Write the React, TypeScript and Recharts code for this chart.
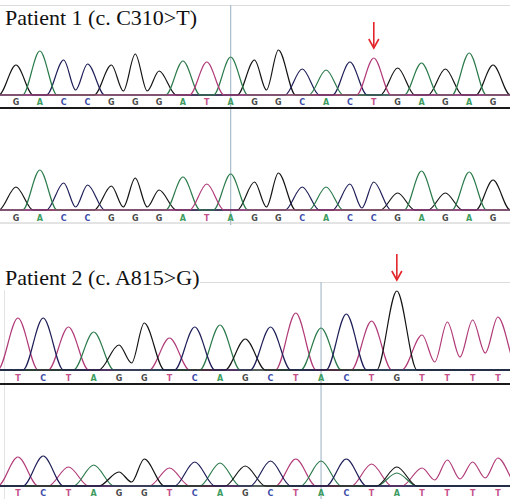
import React from 'react';
import { ComposedChart, Line, Scatter, XAxis, YAxis, ReferenceLine, ReferenceDot } from 'recharts';

// called bases and peak heights (px above baseline)
const trace1Bases = ['G', 'A', 'C', 'C', 'G', 'G', 'G', 'A', 'T', 'A', 'G', 'G', 'C', 'A', 'C', 'T', 'G', 'A', 'G', 'A', 'G'];
const trace1Heights = [30, 44, 35, 31, 30, 41, 24, 34, 33, 38, 35, 45, 26, 25, 33, 37, 27, 32, 26, 42, 30];
const trace1Valleys = [0, 0, 5, 0, 4, 4, 0, 0, 0, 0, 5, 0, 0, 0, 0, 0, 0, 0, 0, 0];

const trace2Bases = ['G', 'A', 'C', 'C', 'G', 'G', 'G', 'A', 'T', 'A', 'G', 'G', 'C', 'A', 'C', 'C', 'G', 'A', 'G', 'A', 'G'];
const trace2Heights = [23, 40, 27, 25, 24, 32, 20, 33, 26, 36, 28, 37, 23, 23, 26, 28, 17, 39, 17, 38, 30];
const trace2Valleys = [0, 0, 3, 0, 3, 3, 0, 0, 0, 0, 3, 0, 0, 0, 2, 0, 0, 0, 0, 0];

const trace3Bases = ['T', 'C', 'T', 'A', 'G', 'G', 'T', 'C', 'A', 'G', 'C', 'T', 'A', 'C', 'T', 'G', 'T', 'T', 'T', 'T'];
const trace3Heights = [52, 52, 43, 38, 25, 47, 32, 43, 45, 31, 43, 57, 42, 56, 49, 79, 35, 48, 50, 53];
const trace3Valleys = [0, 0, 0, 0, 7, 0, 0, 0, 0, 0, 0, 0, 0, 0, 0, 0, 8, 13, 17];

const trace4Bases = ['T', 'C', 'T', 'A', 'G', 'G', 'T', 'C', 'A', 'G', 'C', 'T', 'A', 'C', 'T', 'A', 'T', 'T', 'T', 'T'];
const trace4Heights = [29, 30, 19, 21, 14, 27, 18, 24, 23, 20, 25, 27, 25, 27, 22, 13, 18, 26, 24, 28];
const trace4Valleys = [0, 0, 0, 0, 4, 0, 0, 0, 0, 0, 0, 0, 0, 0, 0, 0, 6, 7, 8];
// second (overlapping) peak under a called base
const trace4Extras = [{ at: 15, base: 'G', height: 19 }];

const panel1Domain: [number, number] = [-0.67, 20.71];
const panel2Domain: [number, number] = [-0.71, 19.48];

const channelColors: Record<string, string> = { G: '#141414', A: '#2b7a4b', C: '#1e1e58', T: '#b03a78' };
const letterColors: Record<string, string> = { G: '#4a4a4a', A: '#3d9b5f', C: '#3c4ca8', T: '#c4508a' };

type Extra = { at: number; base: string; height: number };

function channelPoints(
  bases: string[],
  heights: number[],
  valleys: number[],
  extras: Extra[],
  ch: string,
  w: number,
  domain: [number, number]
) {
  const peaks = bases
    .map((b, i) => ({ i, b, h: heights[i] }))
    .filter((p) => p.b === ch)
    .concat(extras.filter((e) => e.base === ch).map((e) => ({ i: e.at, b: e.base, h: e.height })))
    .sort((a, b) => a.i - b.i);

  const pts = [{ x: domain[0] - 1, y: 0 }];
  peaks.forEach((p, k) => {
    const prev = peaks[k - 1];
    const next = peaks[k + 1];
    if (!(prev && prev.i === p.i - 1)) pts.push({ x: p.i - w, y: 0 });
    pts.push({ x: p.i, y: p.h });
    if (next && next.i === p.i + 1) pts.push({ x: p.i + 0.5, y: valleys[p.i] });
    else pts.push({ x: p.i + w, y: 0 });
  });
  pts.push({ x: domain[1] + 1, y: 0 });
  return pts;
}

function traceLines(
  id: string,
  bases: string[],
  heights: number[],
  valleys: number[],
  extras: Extra[],
  w: number,
  domain: [number, number],
  order: string[],
  letterY: number
) {
  const lines = order.map((ch) => (
    <Line
      key={`${id}-${ch}`}
      yAxisId={id}
      data={channelPoints(bases, heights, valleys, extras, ch, w, domain)}
      dataKey="y"
      type="monotone"
      stroke={channelColors[ch]}
      strokeWidth={1.2}
      dot={false}
      activeDot={false}
      isAnimationActive={false}
    />
  ));
  const letters = (
    <Scatter
      key={`${id}-letters`}
      yAxisId={id}
      data={bases.map((b, i) => ({ x: i, y: letterY, b }))}
      isAnimationActive={false}
      shape={(p: any) => (
        <text
          x={p.cx}
          y={p.cy}
          dy="0.35em"
          textAnchor="middle"
          fontSize={8}
          fontWeight="bold"
          fontFamily="DejaVu Sans"
          fill={letterColors[p.payload.b]}
        >
          {p.payload.b}
        </text>
      )}
    />
  );
  return [...lines, letters];
}

const Arrow = (p: any) => (
  <g stroke="#e3262b" strokeWidth={1.6} fill="none">
    <line x1={p.cx} y1={p.cy - 26} x2={p.cx} y2={p.cy} />
    <polyline points={`${p.cx - 5},${p.cy - 9} ${p.cx},${p.cy} ${p.cx + 5},${p.cy - 9}`} />
  </g>
);

const titleStyle: React.CSSProperties = {
  position: 'absolute',
  left: 5,
  fontFamily: '"Liberation Serif", serif',
  fontSize: 22,
  lineHeight: '22px',
  color: '#111',
  whiteSpace: 'nowrap',
};

const App = () => {
  return (
    <div style={{ position: 'absolute', left: 0, top: 0, width: 510, height: 499, background: '#fff', overflow: 'hidden' }}>
      <div style={{ position: 'absolute', left: 0, top: 5, width: 510, height: 1, background: '#dcdcdc' }} />
      <div style={{ position: 'absolute', left: 200, top: 282, width: 310, height: 1, background: '#dcdcdc' }} />
      <div style={{ position: 'absolute', left: 4, top: 290, width: 1, height: 209, background: '#e4e4e4' }} />

      <div style={{ position: 'absolute', left: 0, top: 5 }}>
        <ComposedChart width={510} height={220} margin={{ top: 0, right: 0, bottom: 0, left: 0 }}>
          <XAxis dataKey="x" type="number" domain={panel1Domain} allowDataOverflow hide />
          <YAxis yAxisId="a" dataKey="y" type="number" domain={[-130, 90]} allowDataOverflow hide />
          <YAxis yAxisId="b" dataKey="y" type="number" domain={[-15, 205]} allowDataOverflow hide />
          <ReferenceLine yAxisId="a" x={9} stroke="#a9bdcb" strokeWidth={1.2} />
          <ReferenceLine yAxisId="a" y={0} stroke="#c58cb0" strokeWidth={1.4} />
          <ReferenceLine yAxisId="a" y={-13} stroke="#1a1a1a" strokeWidth={2} />
          <ReferenceLine yAxisId="b" y={0} stroke="#c58cb0" strokeWidth={1.4} />
          <ReferenceLine yAxisId="b" y={-13} stroke="#c8c8c8" strokeWidth={1} />
          {traceLines('a', trace1Bases, trace1Heights, trace1Valleys, [], 0.72, panel1Domain, ['G', 'C', 'A', 'T'], -7)}
          {traceLines('b', trace2Bases, trace2Heights, trace2Valleys, [], 0.72, panel1Domain, ['G', 'C', 'A', 'T'], -8)}
          <ReferenceDot yAxisId="a" x={15} y={47} r={0} shape={Arrow} />
        </ComposedChart>
      </div>

      <div style={{ position: 'absolute', left: 0, top: 250 }}>
        <ComposedChart width={510} height={249} margin={{ top: 0, right: 0, bottom: 0, left: 0 }}>
          <XAxis dataKey="x" type="number" domain={panel2Domain} allowDataOverflow hide />
          <YAxis yAxisId="c" dataKey="y" type="number" domain={[-129, 120]} allowDataOverflow hide />
          <YAxis yAxisId="d" dataKey="y" type="number" domain={[-13, 236]} allowDataOverflow hide />
          <ReferenceLine yAxisId="c" segment={[{ x: 12, y: 88 }, { x: 12, y: -129 }]} stroke="#a9bdcb" strokeWidth={1.2} />
          <ReferenceLine yAxisId="c" y={0} stroke="#222238" strokeWidth={1.4} />
          <ReferenceLine yAxisId="c" y={-14} stroke="#1a1a1a" strokeWidth={2} />
          <ReferenceLine yAxisId="d" y={0} stroke="#222238" strokeWidth={1.4} />
          {traceLines('c', trace3Bases, trace3Heights, trace3Valleys, [], 0.8, panel2Domain, ['T', 'A', 'G', 'C'], -8)}
          {traceLines('d', trace4Bases, trace4Heights, trace4Valleys, trace4Extras, 0.8, panel2Domain, ['T', 'A', 'G', 'C'], -7)}
          <ReferenceDot yAxisId="c" x={15} y={90} r={0} shape={Arrow} />
        </ComposedChart>
      </div>

      <div style={{ ...titleStyle, top: 7 }}>Patient 1 (c. C310&gt;T)</div>
      <div style={{ ...titleStyle, top: 267 }}>Patient 2 (c. A815&gt;G)</div>
    </div>
  );
};

export default App;
